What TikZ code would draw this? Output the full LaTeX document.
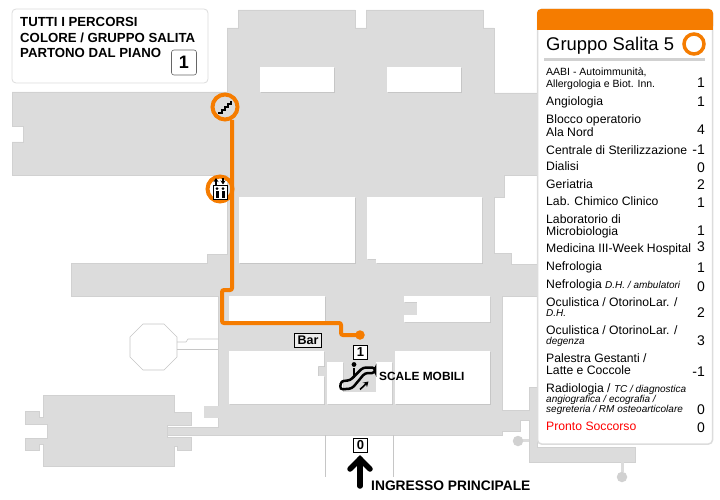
\documentclass[tikz,border=0pt]{standalone}
\usepackage{fontspec}
\setmainfont{Liberation Sans}
\usetikzlibrary{arrows.meta,shapes}
\definecolor{pianta}{HTML}{DCDCDC}
\definecolor{ombra}{HTML}{C6C6C6}
\definecolor{arancio}{HTML}{F57C00}
\newcommand{\fs}[1]{\fontsize{#1}{#1}\selectfont}

\begin{document}
\begin{tikzpicture}[x=1pt,y=-1pt]
	\tikzstyle{every node}=[inner sep=0pt]
	\tikzstyle{pieno}=[fill=pianta,draw=ombra!80,line width=0.4pt]
	\tikzstyle{stanza}=[fill=white,preaction={fill=ombra,transform canvas={xshift=0.8pt,yshift=-0.9pt}}]
	\tikzstyle{filo}=[draw=ombra,line width=0.6pt]
	\tikzstyle{percorso}=[draw=arancio,line width=4pt,rounded corners=2pt]
	\tikzstyle{anello}=[circle,draw=arancio,line width=4pt,minimum size=25pt]
	\tikzstyle{voce}=[anchor=base west,font=\fs{12.2}]
	\tikzstyle{nota}=[anchor=base west,font=\fs{10.5}]
	\tikzstyle{piccola}=[anchor=base west,font=\fs{10}\itshape]
	\tikzstyle{valore}=[anchor=base east,font=\fs{14}]
	\tikzstyle{piano}=[draw=black,line width=1.2pt,fill=white,minimum width=14.5pt,minimum height=14.5pt,font=\fs{13}\bfseries]
	\tikzstyle{dicitura}=[anchor=base west,font=\fs{13.2}\bfseries]
	\useasboundingbox (0,0) rectangle (720,500);

	%%pianta
	\draw [pieno] (238,10) -- (355,10) -- (355,28) -- (366,28) -- (366,10) -- (483,10) -- (483,28) -- (494,28) -- (494,93) -- (537,93) -- (537,175) -- (504,175) -- (504,197) -- (494,197) -- (494,253) -- (511,253) -- (511,264) -- (537,264) -- (537,296) -- (502,296) -- (502,410) -- (529,410) -- (529,387) -- (537,387) -- (537,447) -- (635,447) -- (635,462) -- (529,462) -- (529,420) -- (520,420) -- (520,431) -- (502,431) -- (502,435) -- (167,435) -- (167,427) -- (218,427) -- (218,296) -- (71,296) -- (71,263) -- (207,263) -- (207,254) -- (227,254) -- (227,175) -- (12,175) -- (12,142) -- (23,142) -- (23,126) -- (12,126) -- (12,92) -- (227,92) -- (227,28) -- (238,28) -- cycle;
	\fill [stanza] (260,67) rectangle (334,92);
	\fill [stanza] (387,67) rectangle (461,92);
	\fill [stanza] (239,197) rectangle (355,263);
	\fill [stanza] (367,197) -- (482,197) -- (482,263) -- (376,263) -- (376,259) -- (367,259) -- cycle;
	\fill [stanza] (229,296) rectangle (325,322);
	\fill [stanza] (404,296) -- (490,296) -- (490,322) -- (404,322) -- (404,315) -- (417,315) -- (417,302) -- (404,302) -- cycle;
	\fill [stanza] (229,351) -- (324,351) -- (324,366) -- (318,366) -- (318,376) -- (324,376) -- (324,404) -- (229,404) -- cycle;
	\fill [stanza] (327,362) -- (343,362) -- (343,392) -- (376,392) -- (376,362) -- (392,362) -- (392,404) -- (327,404) -- cycle;
	\fill [stanza] (395,351) rectangle (490,404);
	\fill [pianta] (204,406) rectangle (218.5,418);

	%%edificio in basso
	\draw [pieno] (43,395) -- (174,395) -- (174,412) -- (191,412) -- (191,425) -- (167,425) -- (167,437) -- (191,437) -- (191,450) -- (177,450) -- (177,446) -- (174,446) -- (174,466) -- (43,466) -- (43,444) -- (39,444) -- (39,450) -- (25,450) -- (25,438) -- (47,438) -- (47,424) -- (25,424) -- (25,411) -- (39,411) -- (39,417) -- (43,417) -- cycle;

	%%ottagono
	\draw [filo,fill=white] (143,324) -- (164,324) -- (177,337) -- (177,357) -- (164,370) -- (143,370) -- (130,357) -- (130,337) -- cycle;
	\draw [filo] (177,342) -- (186,342) -- (188,339) -- (218,339);
	\draw [filo] (177,349) -- (218,349);
	\draw [filo] (325,435) -- (325,477);
	\draw [filo] (393,435) -- (393,477);

	%%attacchi tondi
	\fill [pianta] (529,438.5) rectangle (518,441.5);
	\fill [pianta] (620.5,462) rectangle (623.5,472);
	\node (tondoA) [circle,fill=ombra!80,minimum size=10.5pt] at (518,441) {};
	\node (tondoB) [circle,fill=ombra!80,minimum size=10.5pt] at (622,477) {};

	%%percorso
	\coordinate (p0) at (232,120);
	\coordinate (p1) at (232,290);
	\coordinate (p2) at (222,290);
	\coordinate (p3) at (222,323);
	\coordinate (p4) at (341,323);
	\coordinate (p5) at (341,335);
	\node (arrivo) [circle,fill=arancio,minimum size=9.5pt] at (360,335) {};
	\draw [percorso] (p0) -- (p1) -- (p2) -- (p3) -- (p4) -- (p5) -- (arrivo.center);
	\node (scala) [anello] at (225,107) {};
	\node (ascensore) [anello] at (220,189) {};
	\draw [line width=1.4pt,line join=miter] (218,113) -- (222,113) -- (222,110) -- (225,110) -- (225,107) -- (228,107) -- (228,104) -- (231,104) -- (231,101);
	\draw [line width=1pt,fill=white] (213,185) rectangle (227,199);
	\draw [line width=3pt] (217,191) -- (217,197.5);
	\draw [line width=3pt] (223,191) -- (223,197.5);
	\fill (217,188.7) circle (1.5pt);
	\fill (223,188.7) circle (1.5pt);
	\draw [-{Stealth[length=4pt,width=5pt]},line width=1.1pt] (216,184.5) -- (216,178);
	\draw [-{Stealth[length=4pt,width=5pt]},line width=1.1pt] (223,178) -- (223,184.5);

	%%riquadro piano
	\node (avviso) [draw=pianta,fill=white,rounded corners=4pt,line width=0.8pt,minimum width=196pt,minimum height=74pt] at (110,46) {};
	\node (riga1) [dicitura] at (20,26.5) {TUTTI I PERCORSI};
	\node (riga2) [dicitura] at (20,42.5) {COLORE / GRUPPO SALITA};
	\node (riga3) [dicitura] at (20,57.5) {PARTONO DAL PIANO};
	\node (pianoA) [draw=black!60,rounded corners=2.5pt,line width=0.6pt,minimum width=25pt,minimum height=25pt,font=\fs{18}\bfseries] at (184,62.5) {1};

	%%etichette
	\node (bar) [draw=black,line width=1.3pt,fill=pianta!50,minimum width=27pt,minimum height=14pt,font=\fs{12.5}\bfseries] at (308,340.5) {Bar};
	\node (pianoB) [piano] at (360.5,352.5) {1};
	\node (pianoC) [piano] at (360.5,445.5) {0};
	\node (mobili) [dicitura,font=\fs{11.9}\bfseries] at (379,380) {SCALE MOBILI};
	\node (ingresso) [dicitura,font=\fs{13.8}\bfseries] at (371,490) {INGRESSO PRINCIPALE};

	%%scala mobile
	\draw [line width=2.5pt,rounded corners=3pt] (341,381) -- (350,380.5) -- (363,367.5) -- (375,367.5) -- (375,373) -- (365,373) -- (352,388.5) -- (340,389.5) -- cycle;
	\fill (354,364.5) circle (2.4pt);
	\draw [line width=2.6pt] (354,368) -- (354,378);
	\draw [-{Stealth[length=5pt,width=6pt]},line width=1.6pt] (360,389.5) -- (368.5,381.5);

	%%freccia ingresso
	\node (freccia) at (360,459) {};
	\coordinate (coda) at (360,486);
	\coordinate (ala1) at (350,469);
	\coordinate (ala2) at (370,469);
	\draw [line width=5.5pt,line cap=round,line join=miter] (ala1) -- (freccia.center) -- (ala2);
	\draw [line width=5.5pt,line cap=round] (coda) -- (freccia.center);

	%%pannello
	\draw [fill=white,draw=pianta,line width=1.5pt,rounded corners=4pt] (537.5,9.5) rectangle (712.5,444);
	\fill [arancio,rounded corners=4pt] (537,9) -- (713,9) -- (713,30) -- (537,30) -- cycle;
	\fill [arancio] (537,20) rectangle (713,30);
	\node (titolo) [anchor=base west,font=\fs{18.4}] at (546,50.5) {Gruppo Salita 5};
	\node (gruppo) [circle,draw=arancio,line width=3.5pt,minimum size=20pt] at (694,44) {};
	\draw [line width=2.5pt,draw=ombra!80] (544,59.5) -- (705,59.5);

	\node (v1a) [nota] at (546,75.5) {AABI - Autoimmunità,};
	\node (v1b) [nota] at (546,87.5) {Allergologia e Biot. Inn.};
	\node (n1) [valore] at (705,88) {1};
	\node (v2) [voce] at (546,105.5) {Angiologia};
	\node (n2) [valore] at (705,107) {1};
	\node (v3a) [voce] at (546,124) {Blocco operatorio};
	\node (v3b) [voce] at (546,136) {Ala Nord};
	\node (n3) [valore] at (705,135) {4};
	\node (v4) [voce] at (546,154) {Centrale di Sterilizzazione};
	\node (n4) [valore] at (705,154) {-1};
	\node (v5) [voce] at (546,171) {Dialisi};
	\node (n5) [valore] at (705,172) {0};
	\node (v6) [voce] at (546,188) {Geriatria};
	\node (n6) [valore] at (705,189) {2};
	\node (v7) [voce] at (546,205.5) {Lab. Chimico Clinico};
	\node (n7) [valore] at (705,207) {1};
	\node (v8a) [voce] at (546,223) {Laboratorio di};
	\node (v8b) [voce] at (546,235) {Microbiologia};
	\node (n8) [valore] at (705,235) {1};
	\node (v9) [voce] at (546,252) {Medicina III-Week Hospital};
	\node (n9) [valore] at (705,251) {3};
	\node (v10) [voce] at (546,270) {Nefrologia};
	\node (n10) [valore] at (705,272) {1};
	\node (v11) [voce] at (546,288) {Nefrologia {\fs{10}\itshape D.H. / ambulatori}};
	\node (n11) [valore] at (705,291) {0};
	\node (v12a) [voce] at (546,306) {Oculistica / OtorinoLar. /};
	\node (v12b) [piccola] at (546,316) {D.H.};
	\node (n12) [valore] at (705,317) {2};
	\node (v13a) [voce] at (546,334) {Oculistica / OtorinoLar. /};
	\node (v13b) [piccola] at (546,344) {degenza};
	\node (n13) [valore] at (705,345) {3};
	\node (v14a) [voce] at (546,362) {Palestra Gestanti /};
	\node (v14b) [voce] at (546,374) {Latte e Coccole};
	\node (n14) [valore] at (705,376) {-1};
	\node (v15a) [voce] at (546,392) {Radiologia / {\fs{10}\itshape TC / diagnostica}};
	\node (v15b) [piccola] at (546,402) {angiografica / ecografia /};
	\node (v15c) [piccola] at (546,412) {segreteria / RM osteoarticolare};
	\node (n15) [valore] at (705,414) {0};
	\node (v16) [voce,text=red] at (546,430) {Pronto Soccorso};
	\node (n16) [valore] at (705,432) {0};

\end{tikzpicture}
\end{document}
